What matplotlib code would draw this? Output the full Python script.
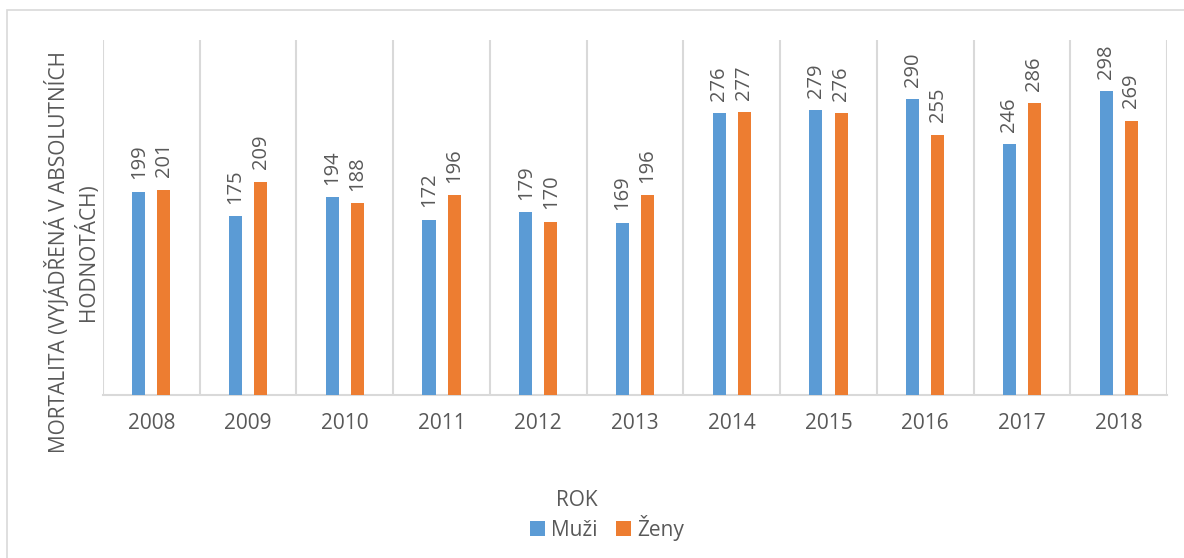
import matplotlib
matplotlib.use("Agg")
import matplotlib.pyplot as plt
from matplotlib.patches import Rectangle

roky = ["2008", "2009", "2010", "2011", "2012", "2013", "2014", "2015", "2016", "2017", "2018"]
muzi = [199, 175, 194, 172, 179, 169, 276, 279, 290, 246, 298]
zeny = [201, 209, 188, 196, 170, 196, 277, 276, 255, 286, 269]

plt.rcParams['font.family'] = ['Open Sans', 'DejaVu Sans']
seda = "#595959"
mrizka = "#D9D9D9"

fig = plt.figure(figsize=(11.84, 5.58), dpi=100)
ax = fig.add_axes([103/1184, 1-395/558, (1167-103)/1184, (395-40)/558])

x = list(range(len(roky)))
w = 0.135
off = 0.13
b1 = ax.bar([i - off for i in x], muzi, w, color="#5B9BD5", label="Muži", zorder=3)
b2 = ax.bar([i + off for i in x], zeny, w, color="#ED7D31", label="Ženy", zorder=3)

for bars, vals in ((b1, muzi), (b2, zeny)):
    for r, v in zip(bars, vals):
        ax.annotate(str(v), (r.get_x() + r.get_width()/2, r.get_height()),
                    xytext=(0, 9), textcoords="offset points",
                    rotation=90, ha="center", va="bottom", fontsize=14.5, color=seda)

for b in range(len(roky) + 1):
    ax.axvline(b - 0.5, color=mrizka, lw=1.5, zorder=1)

ax.set_xlim(-0.5, len(roky) - 0.5)
ax.set_ylim(0, 348)
ax.set_yticks([])
ax.set_xticks(x)
ax.set_xticklabels(roky, fontsize=15, color=seda)
ax.tick_params(axis="x", length=0, pad=13)
for s in ("top", "right", "left"):
    ax.spines[s].set_visible(False)
ax.spines["bottom"].set_color(mrizka)
ax.spines["bottom"].set_linewidth(1.5)

fig.text(72/1184, 1-252/558, "MORTALITA (VYJÁDŘENÁ V ABSOLUTNÍCH\nHODNOTÁCH)",
         rotation=90, ha="center", va="center", multialignment="center",
         fontsize=15, color=seda, linespacing=1.25)

fig.text(577/1184, 1-500/558, "ROK", ha="center", va="center", fontsize=15, color=seda)
fig.legend(handles=[b1, b2], loc="center", bbox_to_anchor=(607/1184, 1-528/558),
           ncol=2, frameon=False, fontsize=15, handlelength=0.7, handleheight=0.7,
           handletextpad=0.3, columnspacing=0.9, labelcolor=seda)

fig.patches.append(Rectangle((7/1184, -0.1), 1.2, 1.1 - 10/558, transform=fig.transFigure,
                             fill=False, edgecolor=mrizka, lw=1.2, figure=fig))

fig.savefig("out.png", dpi=100)
